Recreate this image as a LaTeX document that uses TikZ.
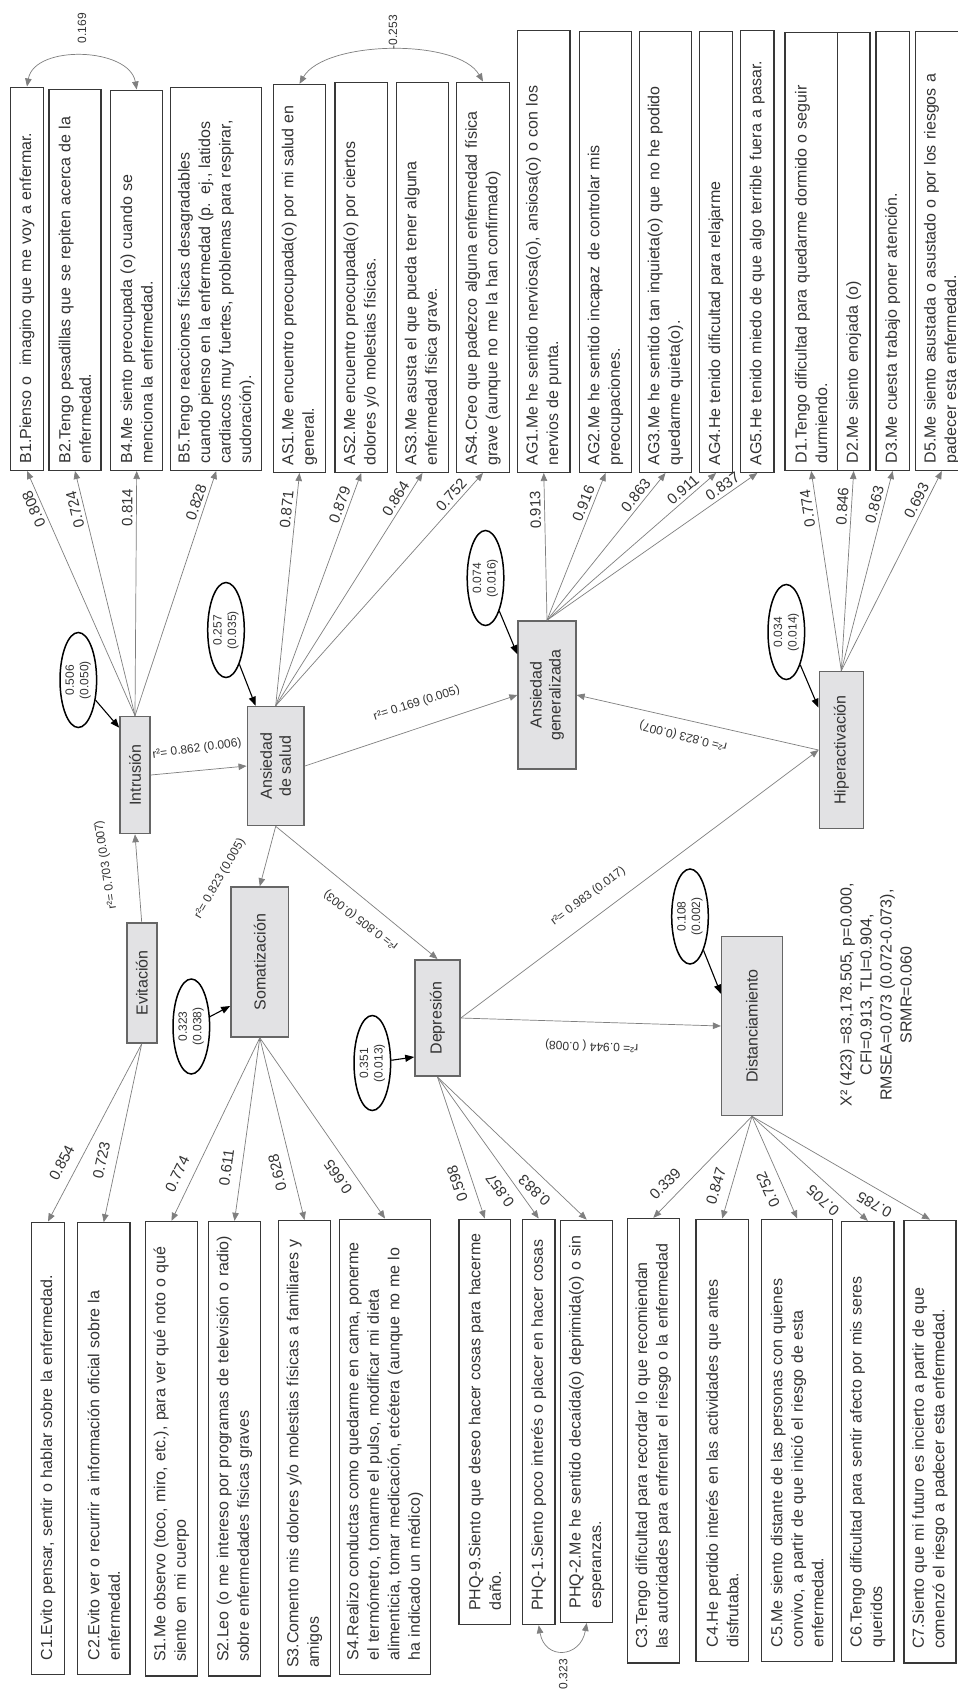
\documentclass[tikz,border=0pt]{standalone}
\usepackage{fontspec}
\setmainfont{Liberation Sans}
\usetikzlibrary{arrows.meta, shapes.geometric}

\definecolor{lgray}{HTML}{7F7F7F}
\definecolor{latfill}{HTML}{E2E2E4}
\definecolor{latline}{HTML}{666666}
\definecolor{boxline}{HTML}{383838}
\definecolor{txt}{HTML}{333333}

\tikzset{
  item/.style n args={3}{draw=boxline, line width=1.2pt, rotate=90, anchor=west, align=left,
    text=txt, font=\fontsize{16}{20.5}\selectfont, minimum width=#1, minimum height=#2,
    inner xsep=#3, inner ysep=2pt, text width=#1-2*#3},
  latent/.style={draw=latline, fill=latfill, line width=1.6pt, rotate=90, align=center,
    text=txt, font=\fontsize{16}{19}\selectfont, inner sep=2pt},
  errv/.style={ellipse, draw=black, line width=1.5pt, fill=white, rotate=90, align=center,
    minimum width=95, minimum height=36.6, inner sep=0pt, text=txt,
    font=\fontsize{12}{14.5}\selectfont},
  load/.style={draw=lgray, line width=0.7pt},
  lab/.style={sloped, allow upside down, above=2pt, inner sep=1.5pt, text=txt,
    font=\fontsize{15}{15}\selectfont},
  labdn/.style={lab, above=6pt},
  rlab/.style={inner sep=1pt, text=txt, font=\fontsize{12}{12}\selectfont},
  errarr/.style={draw=black, line width=1.1pt, -{Triangle[length=9pt,width=7pt]}},
}

\begin{document}
\begin{tikzpicture}[x=1pt, y=-1pt, >={Triangle[length=8pt,width=6.5pt]}]
  \path[use as bounding box, fill=white] (0,0) rectangle (958,1695);

  % top items
  \node[item={383.3}{32.6}{7}] (b1) at (27,471) {B1.Pienso o\ \ imagino que me voy a enfermar.};
  \node[item={381}{52}{7}] (b2) at (75,471) {B2.Tengo pesadillas que se repiten acerca de la\\ enfermedad.};
  \node[item={380.3}{52}{7}] (b4) at (136.7,471) {B4.Me siento preocupada (o) cuando se\\ menciona la enfermedad.};
  \node[item={382.7}{91}{7}] (b5) at (216.2,471) {B5.Tengo reacciones físicas desagradables\\ cuando pienso en la enfermedad (p. ej., latidos\\ cardiacos muy fuertes, problemas para respirar,\\ sudoración).};
  \node[item={388}{52.4}{7}] (as1) at (299.5,473) {AS1.Me encuentro preocupada(o) por mi salud en\\ general.};
  \node[item={389.7}{52.3}{7}] (as2) at (361.2,473) {AS2.Me encuentro preocupada(o) por ciertos\\ dolores y/o molestias físicas.};
  \node[item={389.7}{51.6}{7}] (as3) at (422.5,473) {AS3.Me asusta el que pueda tener alguna\\ enfermedad física grave.};
  \node[item={390.3}{52.6}{7}] (as4) at (483,473) {AS4.Creo que padezco alguna enfermedad física\\ grave (aunque no me la han confirmado)};
  \node[item={442}{52.3}{7}] (ag1) at (543.8,473) {AG1.Me he sentido nerviosa(o), ansiosa(o) o con los\\ nervios de punta.};
  \node[item={441.3}{52.4}{7}] (ag2) at (605.5,473) {AG2.Me he sentido incapaz de controlar mis\\ preocupaciones.};
  \node[item={441.3}{52.4}{7}] (ag3) at (665.5,473) {AG3.Me he sentido tan inquieta(o) que no he podido\\ quedarme quieta(o).};
  \node[item={441.3}{33.4}{7}] (ag4) at (716,473) {AG4.He tenido dificultad para relajarme};
  \node[item={442}{33.3}{7}] (ag5) at (757.3,473) {AG5.He tenido miedo de que algo terrible fuera a pasar.};
  \node[item={438}{52.3}{7}] (d1) at (811.2,471) {D1.Tengo dificultad para quedarme dormido o seguir\\ durmiendo.};
  \node[item={438}{32.7}{7}] (d2) at (853.7,471) {D2.Me siento enojada (o)};
  \node[item={439.3}{33.3}{7}] (d3) at (892.7,471) {D3.Me cuesta trabajo poner atención.};
  \node[item={439.3}{52.3}{7}] (d5) at (941.8,471) {D5.Me siento asustada o asustado o por los riesgos a\\ padecer esta enfermedad.};

  % bottom items
  \node[item={452.3}{32.6}{14}] (c1) at (48,1675) {C1.Evito pensar, sentir o hablar sobre la enfermedad.};
  \node[item={451.6}{52.7}{14}] (c2) at (103.7,1675) {C2.Evito ver o recurrir a información oficial sobre la\\ enfermedad.};
  \node[item={454.5}{51.6}{14}] (s1) at (171.5,1676.5) {S1.Me observo (toco, miro, etc.), para ver qué noto o qué\\ siento en mi cuerpo};
  \node[item={454.5}{52.4}{14}] (s2) at (234.5,1676.5) {S2.Leo (o me intereso por programas de televisión o radio)\\ sobre enfermedades físicas graves};
  \node[item={455.3}{52.4}{8}] (s3) at (304.5,1676.5) {S3.Comento mis dolores y/o molestias físicas a familiares y\\ amigos};
  \node[item={455.3}{91.4}{14}] (s4) at (385,1675) {S4.Realizo conductas como quedarme en cama, ponerme\\ el termómetro, tomarme el pulso, modificar mi dieta\\ alimenticia, tomar medicación, etcétera (aunque no me lo\\ ha indicado un médico)};
  \node[item={405.6}{51.7}{14}] (phq9) at (484.8,1625.3) {PHQ-9.Siento que deseo hacer cosas para hacerme\\ daño.};
  \node[item={405.6}{32.7}{14}] (phq1) at (538.7,1625.3) {PHQ-1.Siento poco interés o placer en hacer cosas};
  \node[item={402.2}{52}{14}] (phq2) at (586.7,1623) {PHQ-2.Me he sentido decaída(o) deprimida(o) o sin\\ esperanzas.};
  \node[item={444.5}{52}{14}] (c3) at (653.3,1663.5) {C3.Tengo dificultad para recordar lo que recomiendan\\ las autoridades para enfrentar el riesgo o la enfermedad};
  \node[item={442.3}{52.3}{14}] (c4) at (722.2,1662) {C4.He perdido interés en las actividades que antes\\ disfrutaba.};
  \node[item={442.3}{71}{14}] (c5) at (797.2,1662) {C5.Me siento distante de las personas con quienes\\ convivo, a partir de que inició el riesgo de esta\\ enfermedad.};
  \node[item={440}{52.3}{14}] (c6) at (867.8,1662) {C6.Tengo dificultad para sentir afecto por mis seres\\ queridos};
  \node[item={442.7}{52}{14}] (c7) at (930,1663.5) {C7.Siento que mi futuro es incierto a partir de que\\ comenzó el riesgo a padecer esta enfermedad.};

  % latent factors
  \node[latent, minimum width=117, minimum height=30] (intr) at (135,775) {Intrusión};
  \node[latent, minimum width=119, minimum height=56.7] (ansa) at (275.7,766) {Ansiedad\\de salud};
  \node[latent, minimum width=120, minimum height=30] (evit) at (141.7,983) {Evitación};
  \node[latent, minimum width=150, minimum height=57.7] (soma) at (259.8,962) {Somatización};
  \node[latent, minimum width=116.5, minimum height=45] (depr) at (437.5,1018) {Depresión};
  \node[latent, minimum width=148, minimum height=57.7] (anag) at (547,695) {Ansiedad\\generalizada};
  \node[latent, minimum width=157, minimum height=44] (hipe) at (841.3,750) {Hiperactivación};
  \node[latent, minimum width=179, minimum height=60.7] (dist) at (752,1026) {Distanciamiento};

  % error variances
  \node[errv] (e1) at (78.3,680) {0.506\\(0.050)};
  \node[errv] (e2) at (226,630) {0.257\\(0.035)};
  \node[errv] (e3) at (191.3,1026.5) {0.323\\(0.038)};
  \node[errv] (e4) at (372.3,1063) {0.351\\(0.013)};
  \node[errv] (e5) at (485.5,578) {0.074\\(0.016)};
  \node[errv] (e6) at (786.3,632) {0.034\\(0.014)};
  \node[errv] (e7) at (690,916.5) {0.108\\(0.002)};
  \draw[errarr] (e1) -- ([yshift=-12pt]intr.north east);
  \draw[errarr] (e2) -- ([xshift=9pt]ansa.north east);
  \draw[errarr] (e3) -- ([yshift=-44pt]soma.north);
  \draw[errarr] (e4) -- ([yshift=-39pt]depr.north);
  \draw[errarr] (e5) -- ([yshift=-34pt]anag.north east);
  \draw[errarr] (e6) -- ([yshift=-37pt]hipe.north east);
  \draw[errarr] (e7) -- ([yshift=-58pt]dist.north east);

  % structural paths
  \draw[load,->] (evit.east) -- (intr.west);
  \draw[load,->] (intr.south) -- (ansa.north);
  \draw[load,->] (ansa.south) -- (anag.north);
  \draw[load,->] (ansa.west) -- (soma.east);
  \draw[load,->] (ansa.west) -- (depr.east);
  \draw[load,->] (depr.south) -- (hipe.north);
  \draw[load,->] (depr.south) -- (dist.north);
  \draw[load,->] (hipe.north) -- (anag.south);
  \node[rlab, rotate=99] (r703) at (106,865) {r²= 0.703 (0.007)};
  \node[rlab, rotate=8] (r862) at (197,749) {r²= 0.862 (0.006)};
  \node[rlab, rotate=18] (r169) at (416.7,703.6) {r²= 0.169 (0.005)};
  \node[rlab, rotate=60] (r823a) at (220,878.6) {r²= 0.823 (0.005)};
  \node[rlab, rotate=143] (r805) at (361,920) {r²= 0.805 (0.003)};
  \node[rlab, rotate=37] (r983) at (588.3,896.4) {r²= 0.983 (0.017)};
  \node[rlab, rotate=178] (r944) at (591.7,1046) {r²= 0.944 ( 0.008)};
  \node[rlab, rotate=166] (r823b) at (683.3,735.7) {r²= 0.823 (0.007)};

  % loadings, top
  \foreach \nm/\v/\p in {b1/0.808/.86, b2/0.724/.85, b4/0.814/.85, b5/0.828/.86}
    \draw[load,->] (intr.east) -- (\nm.west) node[lab, pos=\p] {\v};
  \foreach \nm/\v/\p in {as1/0.871/.84, as2/0.879/.85, as3/0.864/.87, as4/0.752/.88}
    \draw[load,->] (ansa.east) -- (\nm.west) node[lab, pos=\p] {\v};
  \foreach \nm/\v/\p in {ag1/0.913/.75, ag2/0.916/.77, ag3/0.863/.81, ag4/0.911/.84, ag5/0.837/.86}
    \draw[load,->] (anag.east) -- (\nm.west) node[lab, pos=\p] {\v};
  \foreach \nm/\v/\p in {d1/0.774/.82, d2/0.846/.82, d3/0.863/.82, d5/0.693/.83}
    \draw[load,->] (hipe.east) -- (\nm.west) node[lab, pos=\p] {\v};

  % loadings, bottom
  \foreach \nm/\v/\p in {c1/0.854/.29, c2/0.723/.33}
    \draw[load,<-] (\nm.east) -- (evit.west) node[labdn, pos=\p] {\v};
  \foreach \nm/\v/\p in {s1/0.774/.22, s2/0.611/.28, s3/0.628/.28, s4/0.665/.275}
    \draw[load,<-] (\nm.east) -- (soma.west) node[labdn, pos=\p] {\v};
  \foreach \nm/\v/\p in {phq9/0.598/.28, phq1/0.857/.26, phq2/0.883/.28}
    \draw[load,<-] (\nm.east) -- (depr.west) node[labdn, pos=\p] {\v};
  \foreach \nm/\v/\p in {c3/0.339/.23, c4/0.847/.28, c5/0.752/.34, c6/0.705/.30, c7/0.785/.27}
    \draw[load,<-] (\nm.east) -- (dist.west) node[labdn, pos=\p] {\v};

  % correlated errors
  \draw[load,<->] (b1.east) to[out=80, in=100] (b4.east);
  \draw[load,<->] (as1.east) to[out=60, in=120, looseness=.7] (as4.east);
  \draw[load,<->] (phq1.west) to[out=-80, in=-100, looseness=1.9] (phq2.west);
  \node[rlab, rotate=90] (k169) at (82,28) {0.169};
  \node[rlab, rotate=90] (k253) at (393,32) {-0.253};
  \node[rlab, rotate=90] (k323) at (563.3,1674) {0.323};

  % fit indices
  \node[rotate=90, align=center, text=txt, font=\fontsize{16}{20}\selectfont] (fit) at (876,995)
    {X² (423) =83,178.505, p=0.000,\\ CFI=0.913, TLI=0.904,\\ RMSEA=0.073 (0.072-0.073),\\ SRMR=0.060};
\end{tikzpicture}
\end{document}
